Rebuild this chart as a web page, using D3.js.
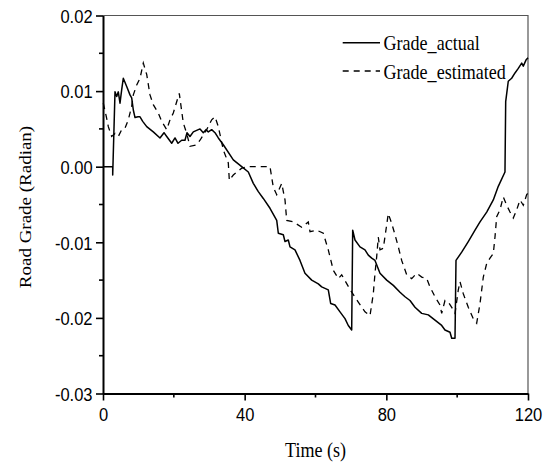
<!DOCTYPE html>
<html>
<head>
<meta charset="utf-8">
<script src="https://cdn.jsdelivr.net/npm/d3@7"></script>
<style>
body{margin:0;background:#fff}
</style>
</head>
<body>
<div id="chart"></div>
<script>
// values
var actualT=[0,2.74,2.74,3.39,3.87,4.32,4.8,5.28,5.73,6.69,7.62,8.1,8.56,9.04,9.88,10.45,11.21,12.34,14.2,16.09,17.22,17.99,19.4,20.33,21.18,22.22,23.15,23.72,24.56,25.5,27.39,28.32,29.08,29.73,30.69,31.62,32.56,33.97,36.79,39.16,41.03,42.44,43.85,45.26,47.15,49.05,49.5,50.91,51.39,52.32,52.8,54.21,55.62,57.03,58.93,60.79,61.75,63.61,64.29,65.51,66.92,68.33,69.26,70.22,70.5,71.15,72.56,73.97,74.91,75.87,76.8,78.21,80.1,81.97,83.86,85.27,86.68,88.09,89.99,91.85,93.74,95.63,96.56,97.98,98.46,99.39,99.67,101.28,103.14,105.04,106.45,108.34,110.2,111.61,113.5,113.7,114.43,115.39,116.33,117.26,118.22,118.67,119.43,120];
var actualV=[0,0,-0.0011,0.0099,0.0093,0.0099,0.0084,0.0102,0.0117,0.0106,0.0095,0.0091,0.0075,0.0065,0.0066,0.0066,0.006,0.0053,0.0046,0.0038,0.0045,0.004,0.0031,0.0038,0.0031,0.0035,0.0035,0.0045,0.004,0.0046,0.005,0.0045,0.0049,0.0046,0.0049,0.0045,0.0038,0.0029,0.0009,0,-0.0007,-0.0022,-0.0033,-0.0042,-0.0055,-0.0071,-0.0088,-0.009,-0.0099,-0.0097,-0.0106,-0.011,-0.0124,-0.0141,-0.015,-0.0155,-0.0159,-0.0163,-0.0181,-0.0183,-0.0192,-0.0201,-0.021,-0.0216,-0.0084,-0.0097,-0.0106,-0.011,-0.0117,-0.0121,-0.0124,-0.0141,-0.015,-0.0157,-0.0166,-0.0172,-0.0177,-0.0186,-0.0194,-0.0196,-0.0203,-0.021,-0.0216,-0.0219,-0.0227,-0.0227,-0.0124,-0.0113,-0.0099,-0.0084,-0.0073,-0.006,-0.0044,-0.0026,-0.0007,0.0086,0.0113,0.0117,0.0124,0.013,0.0137,0.0133,0.0141,0.0144];

var estT=[0.08,1.04,1.5,2.46,3.39,4.32,5.28,6.21,7.14,8.1,8.56,9.52,10.45,11.38,12.34,13.27,14.2,15.61,16.57,17.99,18.92,19.85,21.26,21.54,22.67,23.63,24.56,26.46,27.39,29.28,30.69,31.62,32.56,33.97,35.38,35.67,36.79,39.16,41.03,47.15,48.08,49.05,50.46,51.39,51.87,53.73,56.1,57.96,58.45,60.34,62.2,63.61,65.03,66.44,67.4,68.61,70.22,72.08,73.97,75.39,76.32,76.8,77.28,77.73,78.21,79.14,80.1,80.55,81.51,82.45,83.38,84.34,85.75,87.16,88.57,89.99,91.4,92.33,93.74,95.15,95.63,96.56,97.5,98.46,99.39,100.32,100.8,101.73,103.14,104.55,105.51,106.45,107.38,108.34,109.27,110.2,110.68,111.16,112.09,113.02,113.98,114.92,115.85,116.81,117.74,118.67,119.63,120];
var estV=[0.0084,0.0064,0.0053,0.004,0.0044,0.004,0.0049,0.0051,0.0062,0.008,0.0095,0.0108,0.0117,0.0137,0.0122,0.0095,0.0082,0.0071,0.006,0.0049,0.0062,0.0071,0.0093,0.0097,0.0058,0.0044,0.0027,0.0029,0.0035,0.0049,0.0062,0.0066,0.0053,0.0022,0.0005,-0.0018,-0.0011,-0.0002,0,0,-0.0027,-0.0037,-0.0022,-0.0044,-0.0071,-0.0073,-0.008,-0.0073,-0.0086,-0.0084,-0.0088,-0.011,-0.0137,-0.0148,-0.0143,-0.0153,-0.0166,-0.0179,-0.0192,-0.0197,-0.0168,-0.0141,-0.0119,-0.0093,-0.011,-0.0108,-0.0077,-0.0062,-0.0075,-0.009,-0.0106,-0.0124,-0.0143,-0.0148,-0.0141,-0.0146,-0.0148,-0.0159,-0.0172,-0.0183,-0.0194,-0.0177,-0.0179,-0.0186,-0.0194,-0.0163,-0.0152,-0.0168,-0.0186,-0.0201,-0.0207,-0.0181,-0.0146,-0.0128,-0.0121,-0.0115,-0.0093,-0.0066,-0.0057,-0.004,-0.0051,-0.006,-0.0068,-0.0057,-0.0044,-0.0051,-0.0037,-0.0035];

var xTicks=[0,40,80,120], xTickLabels=["0","40","80","120"], xMinor=[20,60,100];
var yTicks=[0.02,0.01,0,-0.01,-0.02,-0.03], yTickLabels=["0.02","0.01","0.00","-0.01","-0.02","-0.03"];
var yMinor=[0.015,0.005,-0.005,-0.015,-0.025];
var seriesNames=["Grade_actual","Grade_estimated"];

var W=551,H=469, L=103,R=528,T=15.5,B=393.5;

var svg=d3.select("#chart")
.append("svg")
.attr("width",W)
.attr("height",H);

var x=d3.scaleLinear().domain([0,120]).range([L,R]);
var y=d3.scaleLinear().domain([-0.03,0.02]).range([B,T]);

// frame: thin top/right
svg.append("path")
.attr("d","M"+L+" "+T+" H"+R+" V"+B)
.attr("fill","none")
.attr("stroke","#555")
.attr("stroke-width",1.2);

// left axis
var yAx=svg.append("g")
.attr("transform","translate("+L+",0)")
.call(d3.axisLeft(y).tickValues(yTicks).tickSize(7).tickSizeOuter(0).tickFormat(function(d,i){return yTickLabels[i];}));
yAx.append("g").selectAll("line").data(yMinor).join("line")
.attr("x1",0).attr("x2",-4).attr("y1",function(d){return y(d);}).attr("y2",function(d){return y(d);});

// bottom axis
var xAx=svg.append("g")
.attr("transform","translate(0,"+B+")")
.call(d3.axisBottom(x).tickValues(xTicks).tickSize(7).tickSizeOuter(0).tickFormat(function(d,i){return xTickLabels[i];}));
xAx.append("g").selectAll("line").data(xMinor).join("line")
.attr("y1",0).attr("y2",4).attr("x1",function(d){return x(d);}).attr("x2",function(d){return x(d);});

svg.selectAll(".domain").attr("stroke","#000").attr("stroke-width",2);
svg.selectAll(".tick line").attr("stroke","#000").attr("stroke-width",2);
yAx.selectAll("g > line").attr("stroke","#000").attr("stroke-width",1.6);
xAx.selectAll("g > line").attr("stroke","#000").attr("stroke-width",1.6);

yAx.selectAll(".tick text")
.attr("x",-12).attr("dy","0.36em")
.attr("transform","scale(0.87,1)")
.style("font-family","'Liberation Sans',Arial,sans-serif").style("font-size","19px").attr("fill","#000");
xAx.selectAll(".tick text")
.attr("y",14.5).attr("dy","0.71em")
.attr("transform","scale(0.87,1)")
.style("font-family","'Liberation Sans',Arial,sans-serif").style("font-size","19px").attr("fill","#000");

// lines
var line=d3.line().x(function(d){return x(d[0]);}).y(function(d){return y(d[1]);});
var actual=d3.zip(actualT,actualV), est=d3.zip(estT,estV);

svg.append("path").datum(est)
.attr("d",line).attr("fill","none").attr("stroke","#000")
.attr("stroke-width",1.3).attr("stroke-dasharray","6,5");

svg.append("path").datum(actual)
.attr("d",line).attr("fill","none").attr("stroke","#000")
.attr("stroke-width",1.5).attr("stroke-linejoin","round");

// titles
svg.append("text")
.attr("transform","translate(315.5,457) scale(0.86,1)")
.attr("text-anchor","middle")
.style("font-family","'Liberation Serif','Times New Roman',serif").style("font-size","21px")
.text("Time (s)");

svg.append("text")
.attr("transform","translate(31,207) rotate(-90) scale(1,0.86)")
.attr("text-anchor","middle")
.style("font-family","'Liberation Serif','Times New Roman',serif").style("font-size","19px")
.text("Road Grade (Radian)");

// legend
var leg=svg.append("g");
var dashes=["none","6,5"];
seriesNames.forEach(function(n,i){
  var ly=42.7+i*28.3;
  leg.append("line").attr("x1",342.7).attr("x2",380).attr("y1",ly).attr("y2",ly)
  .attr("stroke","#000").attr("stroke-width",1.5).attr("stroke-dasharray",dashes[i]);
  leg.append("text")
  .attr("transform","translate(383.5,"+(ly+7.5)+") scale(0.86,1)")
  .style("font-family","'Liberation Serif','Times New Roman',serif").style("font-size","21px")
  .text(n);
});
</script>
</body>
</html>
